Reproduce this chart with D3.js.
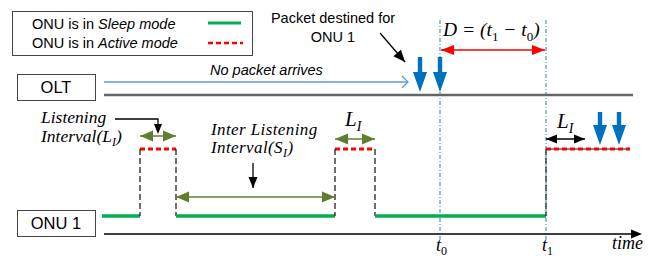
<!DOCTYPE html>
<html><head><meta charset="utf-8">
<script src="https://cdn.jsdelivr.net/npm/d3@7"></script>
<style>
html,body{margin:0;padding:0;background:#fff;}
svg{display:block;}
.sans{font-family:"Liberation Sans",Arial,sans-serif;}
.serif{font-family:"Liberation Serif","Times New Roman",serif;font-style:italic;}
</style></head>
<body>
<script>
// ---- data (time units) ----
const stateNames = ["sleep", "active", "sleep", "active", "sleep", "active"];
const stateStart = [0, 38, 74, 233, 273, 444];
const stateEnd   = [38, 74, 233, 273, 444, 528];
const oltPackets = [318, 338];
const onuPackets = [498, 517];
const markTimes  = [338, 444];          // t0, t1
const markLabels = ["0", "1"];
const legendLabels = ["Sleep mode", "Active mode"];
const rowLabels = ["OLT", "ONU 1"];

const W = 652, H = 258;
const green = "#00b050", red = "#ff0000", olive = "#5f7f2f", blue = "#0070c0", teal = "#31859c";

const x = d3.scaleLinear().domain([0, 540]).range([102, 642]);
const y = d3.scaleOrdinal().domain(["sleep", "active"]).range([216, 149]);

const svg = d3.select("body").append("svg").attr("width", W).attr("height", H);

function head(g, x1, y1, x2, y2, len, wid, color) {
  const a = Math.atan2(y2 - y1, x2 - x1);
  const bx = x2 - len * Math.cos(a), by = y2 - len * Math.sin(a);
  const px = -Math.sin(a) * wid / 2, py = Math.cos(a) * wid / 2;
  g.append("path").attr("d", `M${x2},${y2}L${bx + px},${by + py}L${bx - px},${by - py}Z`).attr("fill", color);
}
function arrow(x1, y1, x2, y2, opt) {
  const o = Object.assign({color: "#000", w: 1.3, len: 10, wid: 9, both: false}, opt || {});
  const g = svg.append("g");
  g.append("line").attr("x1", x1).attr("y1", y1).attr("x2", x2).attr("y2", y2)
    .attr("stroke", o.color).attr("stroke-width", o.w);
  head(g, x1, y1, x2, y2, o.len, o.wid, o.color);
  if (o.both) head(g, x2, y2, x1, y1, o.len, o.wid, o.color);
}
function fatDown(cx, top, tip) {
  svg.append("path")
    .attr("d", `M${cx - 2.2},${top}L${cx + 2.2},${top}L${cx + 2.2},${tip - 20}L${cx + 7},${tip - 20}L${cx},${tip}L${cx - 7},${tip - 20}L${cx - 2.2},${tip - 20}Z`)
    .attr("fill", blue);
}

// ---- legend ----
svg.append("rect").attr("x", 12.5).attr("y", 11.5).attr("width", 240).attr("height", 44)
  .attr("fill", "#fff").attr("stroke", "#444").attr("stroke-width", 1);
legendLabels.forEach((l, i) => {
  const t = svg.append("text").attr("class", "sans").attr("x", 32).attr("y", 29 + i * 19).attr("font-size", 14.5).attr("fill", "#000");
  t.append("tspan").text("ONU is in ");
  t.append("tspan").attr("font-style", "italic").text(l);
});
svg.append("line").attr("x1", 208).attr("x2", 241).attr("y1", 23).attr("y2", 23).attr("stroke", green).attr("stroke-width", 3);
svg.append("line").attr("x1", 208).attr("x2", 243).attr("y1", 43).attr("y2", 43).attr("stroke", red).attr("stroke-width", 2.5).attr("stroke-dasharray", "5,3");

// ---- row boxes ----
[[74, rowLabels[0]], [210, rowLabels[1]]].forEach(([yy, lab]) => {
  svg.append("rect").attr("x", 17.5).attr("y", yy + 0.5).attr("width", 78).attr("height", 26)
    .attr("fill", "#fff").attr("stroke", "#444").attr("stroke-width", 1);
  svg.append("text").attr("class", "sans").attr("x", 56).attr("y", yy + 19).attr("text-anchor", "middle")
    .attr("font-size", 16.5).text(lab);
});

// ---- vertical marker lines ----
markTimes.forEach(t => {
  svg.append("line").attr("x1", x(t)).attr("x2", x(t)).attr("y1", 20).attr("y2", 240)
    .attr("stroke", teal).attr("stroke-width", 1).attr("stroke-dasharray", "4,2,1,2");
});

// ---- OLT row ----
svg.append("line").attr("x1", x(2)).attr("x2", x(531)).attr("y1", 95).attr("y2", 95).attr("stroke", "#666").attr("stroke-width", 2.5);
svg.append("line").attr("x1", x(2)).attr("x2", x(306)).attr("y1", 82).attr("y2", 82).attr("stroke", "#5b9bd5").attr("stroke-width", 1.5);
svg.append("path").attr("d", `M${x(306) - 6},76L${x(306)},82L${x(306) - 6},88`).attr("fill", "none").attr("stroke", "#5b9bd5").attr("stroke-width", 1.3);
svg.append("text").attr("class", "sans").attr("x", 210).attr("y", 75).attr("font-size", 14.5).attr("font-style", "italic").text("No packet arrives");
oltPackets.forEach(t => fatDown(x(t), 57, 92));

svg.append("text").attr("class", "sans").attr("x", 333).attr("y", 23).attr("text-anchor", "middle").attr("font-size", 14.5).text("Packet destined for");
svg.append("text").attr("class", "sans").attr("x", 333).attr("y", 42).attr("text-anchor", "middle").attr("font-size", 14.5).text("ONU 1");
arrow(380, 33, 405, 62, {len: 12, wid: 10});

// D = (t1 - t0)
const dT = svg.append("text").attr("class", "serif").attr("x", 443).attr("y", 36).attr("font-size", 19.5);
dT.append("tspan").text("D = (t");
dT.append("tspan").attr("dy", 5).attr("font-size", 13).attr("font-style", "normal").text("1");
dT.append("tspan").attr("dy", -5).text(" − t");
dT.append("tspan").attr("dy", 5).attr("font-size", 13).attr("font-style", "normal").text("0");
dT.append("tspan").attr("dy", -5).text(")");
arrow(x(markTimes[0]) + 1, 50, x(markTimes[1]) - 1, 50, {color: red, both: true, len: 13, wid: 10, w: 1.5});

// ---- ONU row ----
svg.append("line").attr("x1", x(2)).attr("x2", x(534)).attr("y1", 234).attr("y2", 234).attr("stroke", "#000").attr("stroke-width", 1.5);
head(svg, x(530), 234, x(540), 234, 11, 9, "#000");
svg.append("text").attr("class", "serif").attr("x", 612).attr("y", 249).attr("font-size", 18).text("time");

// gray base under final active region
svg.append("line").attr("x1", x(444)).attr("x2", x(528)).attr("y1", y("active")).attr("y2", y("active")).attr("stroke", "#888").attr("stroke-width", 2);

stateNames.forEach((s, i) => {
  const x0 = x(stateStart[i]), x1 = x(stateEnd[i]);
  if (s === "sleep") {
    svg.append("line").attr("x1", x0).attr("x2", x1).attr("y1", y(s)).attr("y2", y(s)).attr("stroke", green).attr("stroke-width", 3.5);
  } else {
    svg.append("line").attr("x1", x0).attr("x2", x1).attr("y1", y(s)).attr("y2", y(s)).attr("stroke", red).attr("stroke-width", 3).attr("stroke-dasharray", "5,3");
    [x0, x1].forEach((xx, k) => {
      if (k === 1 && i === stateNames.length - 1) return;
      svg.append("line").attr("x1", xx).attr("x2", xx).attr("y1", y("active")).attr("y2", y("sleep"))
        .attr("stroke", "#222").attr("stroke-width", 1.3).attr("stroke-dasharray", "6,3");
    });
  }
});

// olive interval arrows
arrow(x(stateStart[1]), 136, x(stateEnd[1]), 136, {color: olive, both: true, len: 13, wid: 11, w: 1.5});
arrow(x(stateStart[2]), 197, x(stateEnd[2]), 197, {color: olive, both: true, len: 13, wid: 11, w: 1.5});
arrow(x(stateStart[3]), 139, x(stateEnd[3]), 139, {color: olive, both: true, len: 13, wid: 11, w: 1.5});
arrow(x(stateStart[5]), 139, x(stateStart[5]) + 39, 139, {color: "#000", both: true, len: 11, wid: 9, w: 1.5});

// labels
svg.append("text").attr("class", "serif").attr("x", 41).attr("y", 123).attr("font-size", 17.5).text("Listening");
const li = svg.append("text").attr("class", "serif").attr("x", 41).attr("y", 142).attr("font-size", 17.5);
li.append("tspan").text("Interval(L");
li.append("tspan").attr("dy", 4).attr("font-size", 12).text("I");
li.append("tspan").attr("dy", -4).text(")");
svg.append("path").attr("d", "M115,119L158,119L158,124").attr("fill", "none").attr("stroke", "#000").attr("stroke-width", 1.3);
head(svg, 158, 120, 158, 134, 10, 8, "#000");

svg.append("text").attr("class", "serif").attr("x", 211).attr("y", 135).attr("font-size", 17).attr("letter-spacing", 0.4).text("Inter Listening");
const si = svg.append("text").attr("class", "serif").attr("x", 211).attr("y", 153).attr("font-size", 17).attr("letter-spacing", 0.4);
si.append("tspan").text("Interval(S");
si.append("tspan").attr("dy", 4).attr("font-size", 12).text("I");
si.append("tspan").attr("dy", -4).text(")");
arrow(253, 163, 253, 188, {len: 11, wid: 9});

[[345, 126], [557, 128]].forEach(([xx, yy]) => {
  const t = svg.append("text").attr("class", "serif").attr("x", xx).attr("y", yy).attr("font-size", 21);
  t.append("tspan").text("L");
  t.append("tspan").attr("dy", 5).attr("font-size", 14).text("I");
});

onuPackets.forEach(t => fatDown(x(t), 112, 145));

// t0, t1 labels
markTimes.forEach((t, i) => {
  const tx = svg.append("text").attr("class", "serif").attr("x", x(t) - 4).attr("y", 251).attr("font-size", 18);
  tx.append("tspan").text("t");
  tx.append("tspan").attr("dy", 4).attr("font-size", 12).attr("font-style", "normal").text(markLabels[i]);
});
</script>
</body></html>
